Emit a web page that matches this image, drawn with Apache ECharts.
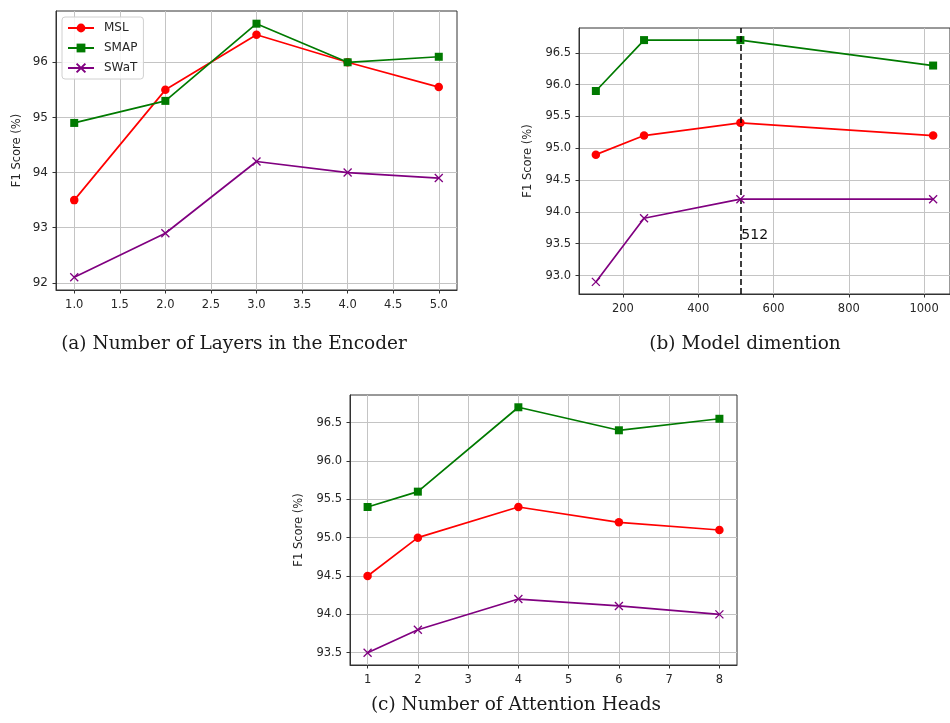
<!DOCTYPE html>
<html><head><meta charset="utf-8">
<script src="https://cdn.jsdelivr.net/npm/echarts@6/dist/echarts.min.js"></script>
<style>html,body{margin:0;padding:0;background:#fff}#c{width:950px;height:723px}</style>
</head><body><div id="c"></div><script>
// ---- data ----
const seriesNames = ['MSL', 'SMAP', 'SWaT'];
const seriesColors = ['#ff0000', '#007a00', '#800080'];

// (a) Number of layers in the encoder
const layersX = [1, 2, 3, 4, 5];
const layersMSL = [93.5, 95.5, 96.5, 96.0, 95.55];
const layersSMAP = [94.9, 95.3, 96.7, 96.0, 96.1];
const layersSWaT = [92.1, 92.9, 94.2, 94.0, 93.9];
const layersXTicks = [1.0, 1.5, 2.0, 2.5, 3.0, 3.5, 4.0, 4.5, 5.0];
const layersYTicks = [92, 93, 94, 95, 96];

// (b) Model dimension
const dimX = [128, 256, 512, 1024];
const dimMSL = [94.9, 95.2, 95.4, 95.2];
const dimSMAP = [95.9, 96.7, 96.7, 96.3];
const dimSWaT = [92.9, 93.9, 94.2, 94.2];
const dimXTicks = [200, 400, 600, 800, 1000];
const dimYTicks = [93.0, 93.5, 94.0, 94.5, 95.0, 95.5, 96.0, 96.5];
const dimMarker = 512;
const dimMarkerLabelY = 93.5;

// (c) Number of attention heads
const headsX = [1, 2, 4, 6, 8];
const headsMSL = [94.5, 95.0, 95.4, 95.2, 95.1];
const headsSMAP = [95.4, 95.6, 96.7, 96.4, 96.55];
const headsSWaT = [93.5, 93.8, 94.2, 94.11, 94.0];
const headsXTicks = [1, 2, 3, 4, 5, 6, 7, 8];
const headsYTicks = [93.5, 94.0, 94.5, 95.0, 95.5, 96.0, 96.5];

const captions = ['(a) Number of Layers in the Encoder', '(b) Model dimention', '(c) Number of Attention Heads'];
const yName = 'F1 Score (%)';

// ---- styling / helpers ----
const axisColor = '#333';
const labelColor = '#262626';
const gridColor = '#c4c4c4';
const sans = 'DejaVu Sans';
const symbols = ['circle', 'rect', 'path://M0,0L10,10M10,0L0,10'];
const symbolSizes = [8.5, 8, 8];

function xAxis(gi, min, max, ticks, fmt, fs) {
  return {
    type: 'value', gridIndex: gi, min: min, max: max,
    axisLine: {show: true, onZero: false, lineStyle: {color: axisColor, width: 1}},
    axisTick: {show: true, inside: false, length: 3.5, customValues: ticks, lineStyle: {color: axisColor}},
    axisLabel: {customValues: ticks, formatter: fmt, color: labelColor, fontFamily: sans, fontSize: fs, margin: 9},
    splitLine: {show: true, lineStyle: {color: gridColor, width: 1}}
  };
}
function yAxis(gi, min, max, ticks, fmt, fs, gap) {
  return {
    type: 'value', gridIndex: gi, min: min, max: max,
    name: yName, nameLocation: 'middle', nameRotate: 90, nameGap: gap,
    nameTextStyle: {fontFamily: sans, fontSize: 11.5, color: labelColor},
    axisLine: {show: true, onZero: false, lineStyle: {color: axisColor, width: 1}},
    axisTick: {show: true, inside: false, length: 3.5, customValues: ticks, lineStyle: {color: axisColor}},
    axisLabel: {customValues: ticks, formatter: fmt, color: labelColor, fontFamily: sans, fontSize: fs, margin: 8},
    splitLine: {show: true, lineStyle: {color: gridColor, width: 1}}
  };
}
function line(gi, idx, xs, ys, extra) {
  const s = {
    type: 'line', name: seriesNames[idx], xAxisIndex: gi, yAxisIndex: gi,
    data: xs.map((x, i) => [x, ys[i]]),
    symbol: symbols[idx], symbolSize: symbolSizes[idx], showAllSymbol: true,
    lineStyle: {color: seriesColors[idx], width: 1.7},
    itemStyle: idx === 2 ? {color: seriesColors[idx], borderColor: seriesColors[idx], borderWidth: 1.3}
                         : {color: seriesColors[idx], borderWidth: 0},
    emphasis: {disabled: true}, animation: false, z: 3 + idx
  };
  return Object.assign(s, extra || {});
}
const f1 = v => v.toFixed(1);
const f0 = v => v.toFixed(0);
const capFont = '18.5px "DejaVu Serif"';

const option = {
  backgroundColor: '#fff',
  animation: false,
  legend: {
    data: seriesNames, orient: 'vertical', left: 62, top: 17,
    itemWidth: 26, itemHeight: 11, itemGap: 8, padding: [5, 6, 5, 5],
    borderColor: '#d0d0d0', borderWidth: 1, borderRadius: 3, backgroundColor: 'rgba(255,255,255,0.85)',
    textStyle: {fontFamily: sans, fontSize: 12, color: labelColor, padding: [0, 0, 0, 5]},
    selectedMode: false
  },
  grid: [
    {left: 56, top: 11, width: 401, height: 279, show: true, borderColor: axisColor, borderWidth: 1, backgroundColor: 'transparent'},
    {left: 579, top: 28, width: 381, height: 266, show: true, borderColor: axisColor, borderWidth: 1, backgroundColor: 'transparent'},
    {left: 350, top: 395, width: 387, height: 270, show: true, borderColor: axisColor, borderWidth: 1, backgroundColor: 'transparent'}
  ],
  xAxis: [
    xAxis(0, 0.8, 5.2, layersXTicks, f1, 11.5),
    xAxis(1, 83.2, 1068.8, dimXTicks, f0, 11.5),
    xAxis(2, 0.65, 8.35, headsXTicks, f0, 11.5)
  ],
  yAxis: [
    yAxis(0, 91.87, 96.93, layersYTicks, f0, 12, 33),
    yAxis(1, 92.71, 96.89, dimYTicks, f1, 11.5, 45),
    yAxis(2, 93.34, 96.86, headsYTicks, f1, 11.5, 45)
  ],
  series: [
    line(0, 0, layersX, layersMSL),
    line(0, 1, layersX, layersSMAP),
    line(0, 2, layersX, layersSWaT),
    line(1, 1, dimX, dimSMAP),
    line(1, 0, dimX, dimMSL),
    line(1, 2, dimX, dimSWaT, {
      markLine: {
        silent: true, symbol: 'none', animation: false,
        label: {show: false},
        lineStyle: {color: '#000', type: [6, 3], width: 1.5},
        data: [{xAxis: dimMarker}]
      },
      markPoint: {
        silent: true, symbol: 'circle', symbolSize: 0.1, animation: false,
        itemStyle: {color: 'transparent'},
        label: {show: true, position: 'insideBottomLeft', distance: 1, formatter: String(dimMarker),
                fontFamily: sans, fontSize: 14, color: '#111'},
        data: [{coord: [dimMarker, dimMarkerLabelY]}]
      }
    }),
    line(2, 0, headsX, headsMSL),
    line(2, 1, headsX, headsSMAP),
    line(2, 2, headsX, headsSWaT)
  ],
  graphic: [
    {type: 'text', x: 234, y: 344, style: {text: captions[0], align: 'center', verticalAlign: 'middle', textAlign: 'center', textVerticalAlign: 'middle', font: capFont, fill: '#1a1a1a'}},
    {type: 'text', x: 745, y: 344, style: {text: captions[1], align: 'center', verticalAlign: 'middle', textAlign: 'center', textVerticalAlign: 'middle', font: capFont, fill: '#1a1a1a'}},
    {type: 'text', x: 516, y: 705, style: {text: captions[2], align: 'center', verticalAlign: 'middle', textAlign: 'center', textVerticalAlign: 'middle', font: capFont, fill: '#1a1a1a'}}
  ]
};
const chart = echarts.init(document.getElementById('c'), null, {renderer: 'canvas'});
chart.setOption(option);
</script></body></html>
